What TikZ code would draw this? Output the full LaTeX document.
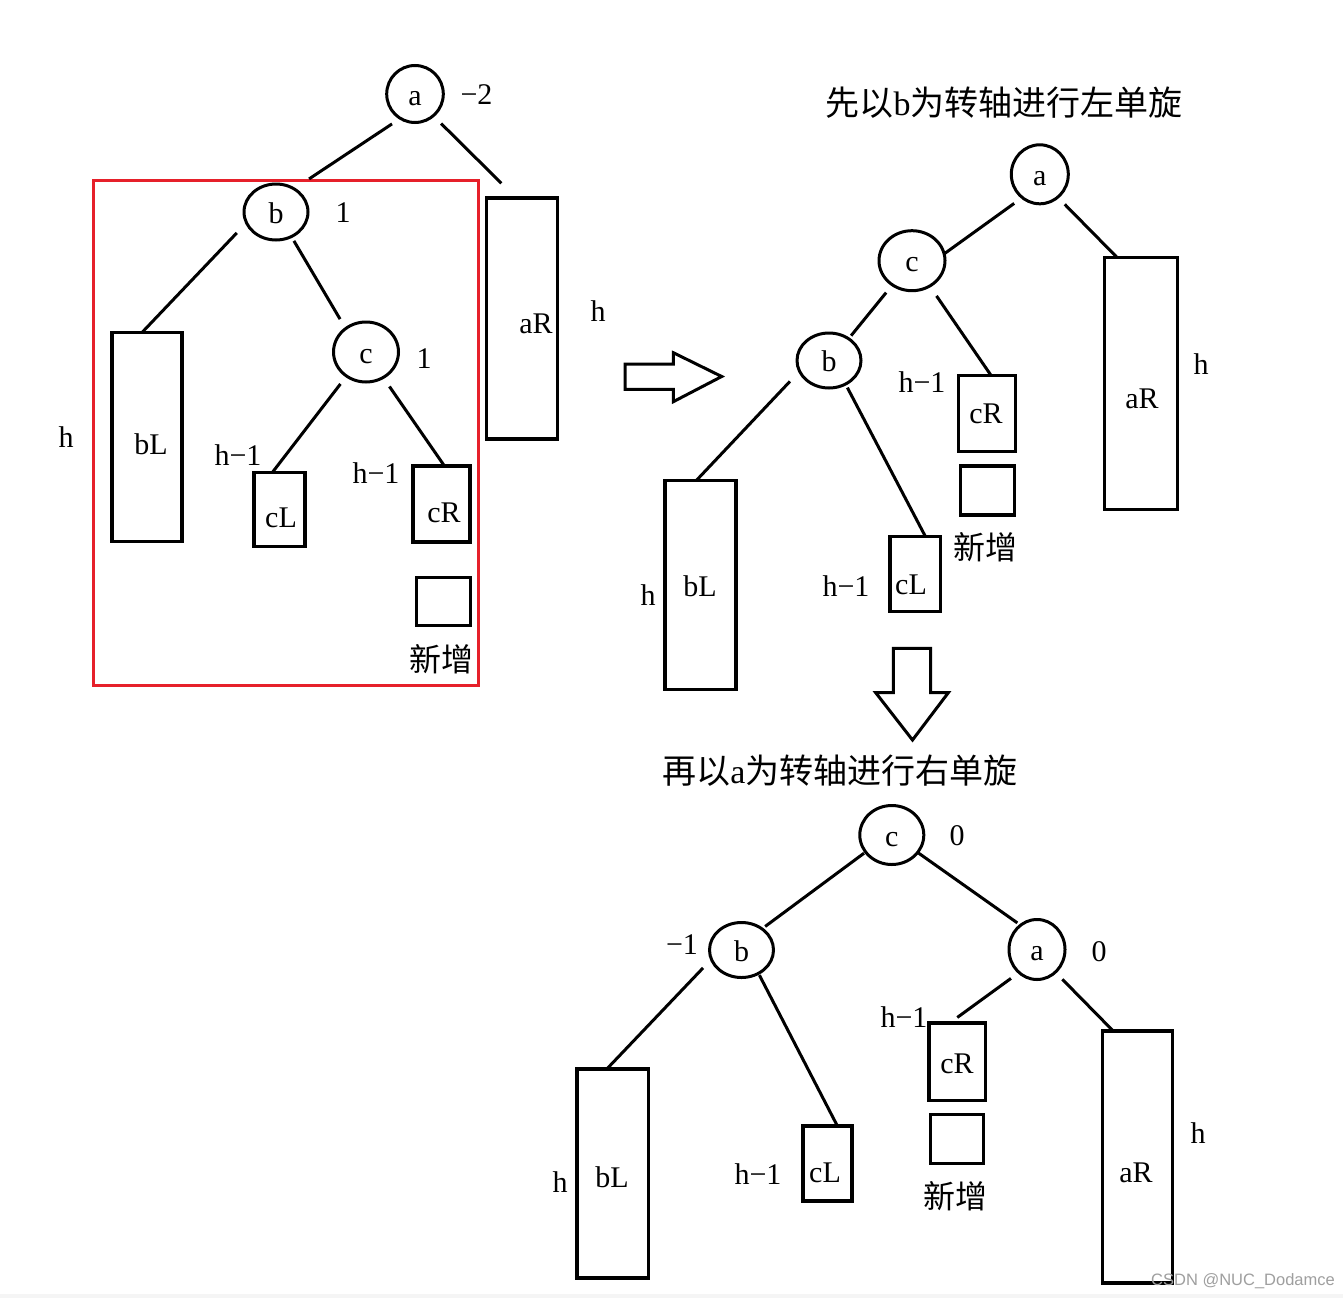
\documentclass[tikz,border=0pt]{standalone}
\usepackage{fontspec}
\setmainfont{Liberation Serif}
\newfontfamily\cjk{Noto Sans CJK SC}
\newfontfamily\wmfont{Liberation Sans}
\usetikzlibrary{shapes.geometric}
\definecolor{redbox}{RGB}{230,32,42}
\begin{document}
\begin{tikzpicture}[x=1pt,y=-1pt,
  every node/.style={font=\fontsize{30}{30}\selectfont},
  vert/.style={draw, ellipse, line width=3pt, inner sep=0pt, outer sep=0pt, text height=22pt, text depth=0pt},
  blk/.style={draw, rectangle, line width=3.5pt, inner sep=0pt, outer sep=0pt},
  edge/.style={line width=3pt},
  lbl/.style={inner sep=0pt},
  zh/.style={inner sep=0pt, font=\cjk\fontsize{32}{32}\selectfont},
  ttl/.style={inner sep=0pt, font=\fontsize{34}{34}\selectfont},
  hollow/.style={draw, line width=3pt, fill=white, line join=miter}
]
\useasboundingbox[fill=white] (0,0) rectangle (1343,1298);
\fill[gray!8] (0,1294) rectangle (1343,1298);

% ---------------- tree 1 ----------------
\node[draw=redbox, rectangle, line width=3pt, inner sep=0pt, outer sep=0pt,
      minimum width=385.5pt, minimum height=504.5pt] (R1) at (286.2,433.2) {};
\node[vert, minimum width=56.6pt, minimum height=57pt] (A1) at (415,94) {a};
\node[vert, minimum width=64pt, minimum height=56pt] (B1) at (276,212) {b};
\node[vert, minimum width=65pt, minimum height=60pt] (C1) at (366,352) {c};
\node[blk, minimum width=70pt, minimum height=209pt] (bL1) at (147,437) {};
\node[blk, minimum width=51pt, minimum height=74pt] (cL1) at (279.3,509.5) {};
\node[blk, minimum width=57pt, minimum height=76pt] (cR1) at (441.6,504.2) {};
\node[blk, minimum width=54pt, minimum height=48pt] (N1) at (443.6,601.5) {};
\node[blk, minimum width=71pt, minimum height=241pt] (aR1) at (522.2,318.5) {};

\draw[edge, shorten <=10pt, shorten >=18pt] (A1.239) -- (B1.52);
\draw[edge, shorten <=11pt, shorten >=21pt] (A1.310) -- ([xshift=-6pt]aR1.north);
\draw[edge, shorten <=14pt] (B1.200) -- ([xshift=-5pt]bL1.north);
\draw[edge, shorten <=5pt, shorten >=11pt] (B1.302) -- (C1.131);
\draw[edge, shorten <=10pt] (C1.231) -- ([xshift=-7pt]cL1.north);
\draw[edge, shorten <=11pt] (C1.304) -- ([xshift=3pt]cR1.north);

\node[lbl] (A1bf) at (476.5,95) {−2};
\node[lbl] (B1bf) at (343,213) {1};
\node[lbl] (C1bf) at (424,359) {1};
\node[lbl] (h1a) at (66,437) {h};
\node[lbl] (h1b) at (598,311) {h};
\node[lbl] (t1bL) at (151,444) {bL};
\node[lbl] (t1cL) at (281,518) {cL};
\node[lbl] (t1cR) at (444,513) {cR};
\node[lbl] (t1aR) at (536,324) {aR};
\node[lbl] (h1c) at (238,455) {h−1};
\node[lbl] (h1d) at (376,473) {h−1};
\node[zh] (z1) at (441,659) {新增};

% ---------------- arrows ----------------
\draw[hollow] (625,364) -- (673.3,364) -- (673.3,352.7) -- (721.7,376.5)
  -- (673.3,401.7) -- (673.3,389.3) -- (625,389.3) -- cycle;
\draw[hollow] (893.3,648.3) -- (930.7,648.3) -- (930.7,692.7) -- (948.3,692.7)
  -- (912.5,740) -- (875.7,692.7) -- (893.3,692.7) -- cycle;

% ---------------- tree 2 ----------------
\node[ttl] (T1) at (1004,103) {{\cjk 先以}b{\cjk 为转轴进行左单旋}};
\node[vert, minimum width=57pt, minimum height=59pt] (A2) at (1039.8,174.3) {a};
\node[vert, minimum width=66pt, minimum height=60pt] (C2) at (912,260.7) {c};
\node[vert, minimum width=64pt, minimum height=55pt] (B2) at (829,360.5) {b};
\node[blk, minimum width=73pt, minimum height=252pt] (aR2) at (1141.2,383.6) {};
\node[blk, minimum width=57pt, minimum height=76pt] (cR2) at (987.1,413.5) {};
\node[blk, minimum width=54pt, minimum height=49pt] (N2) at (987.5,490.3) {};
\node[blk, minimum width=50.6pt, minimum height=75pt] (cL2) at (915.4,574) {};
\node[blk, minimum width=71pt, minimum height=209pt] (bL2) at (700.3,585) {};

\draw[edge, shorten <=10pt, shorten >=1pt] (A2.233) -- (C2.12);
\draw[edge, shorten <=10pt] (A2.308) -- ([xshift=-24pt]aR2.north);
\draw[edge, shorten <=10pt, shorten >=4pt] (C2.231) -- (B2.48);
\draw[edge, shorten <=12pt] (C2.305) -- ([xshift=4pt]cR2.north);
\draw[edge, shorten <=14pt] (B2.200) -- ([xshift=-4pt]bL2.north);
\draw[edge, shorten <=4pt] (B2.305) -- ([xshift=10pt]cL2.north);

\node[lbl] (h2a) at (1201,364) {h};
\node[lbl] (t2aR) at (1142,399) {aR};
\node[lbl] (t2cR) at (986,414) {cR};
\node[lbl] (h2b) at (922,382) {h−1};
\node[lbl] (h2c) at (846,586) {h−1};
\node[lbl] (t2cL) at (911,585) {cL};
\node[lbl] (t2bL) at (700,586) {bL};
\node[lbl] (h2d) at (648,595) {h};
\node[zh] (z2) at (985,547) {新增};

% ---------------- tree 3 ----------------
\node[ttl] (T2) at (840,771) {{\cjk 再以}a{\cjk 为转轴进行右单旋}};
\node[vert, minimum width=64pt, minimum height=59pt] (C3) at (891.8,835) {c};
\node[vert, minimum width=64pt, minimum height=55pt] (B3) at (741.5,950) {b};
\node[vert, minimum width=56pt, minimum height=60pt] (A3) at (1037,949.5) {a};
\node[blk, minimum width=71.6pt, minimum height=209pt] (bL3) at (612.6,1173.7) {};
\node[blk, minimum width=49pt, minimum height=75pt] (cL3) at (827.4,1163.5) {};
\node[blk, minimum width=56.5pt, minimum height=77.5pt] (cR3) at (957,1061.5) {};
\node[blk, minimum width=53pt, minimum height=49pt] (N3) at (956.9,1139) {};
\node[blk, minimum width=70.4pt, minimum height=252pt] (aR3) at (1137.5,1156.8) {};

\draw[edge, shorten <=2pt, shorten >=4pt] (C3.213) -- (B3.46);
\draw[edge, shorten <=1pt, shorten >=4pt] (C3.326) -- (A3.124);
\draw[edge, shorten <=12pt] (B3.197) -- ([xshift=-6pt]bL3.north);
\draw[edge, shorten <=2pt] (B3.306) -- ([xshift=10pt]cL3.north);
\draw[edge, shorten <=10pt, shorten >=9pt] (A3.232) -- ([xshift=-7pt]cR3.north);
\draw[edge, shorten <=10pt] (A3.309) -- ([xshift=-24.5pt]aR3.north);

\node[lbl] (C3bf) at (957,836) {0};
\node[lbl] (A3bf) at (1099,952) {0};
\node[lbl] (B3bf) at (682,945) {−1};
\node[lbl] (h3a) at (904,1017) {h−1};
\node[lbl] (t3cR) at (957,1064) {cR};
\node[zh] (z3) at (955,1196) {新增};
\node[lbl] (h3b) at (1198,1133) {h};
\node[lbl] (t3aR) at (1136,1173) {aR};
\node[lbl] (h3c) at (758,1174) {h−1};
\node[lbl] (t3cL) at (825,1173) {cL};
\node[lbl] (t3bL) at (612,1177) {bL};
\node[lbl] (h3d) at (560,1182) {h};

\node[inner sep=0pt, text=gray!75, font=\wmfont\fontsize{16.5}{16.5}\selectfont] (wm) at (1243,1281) {CSDN @NUC\_Dodamce};
\end{tikzpicture}
\end{document}
